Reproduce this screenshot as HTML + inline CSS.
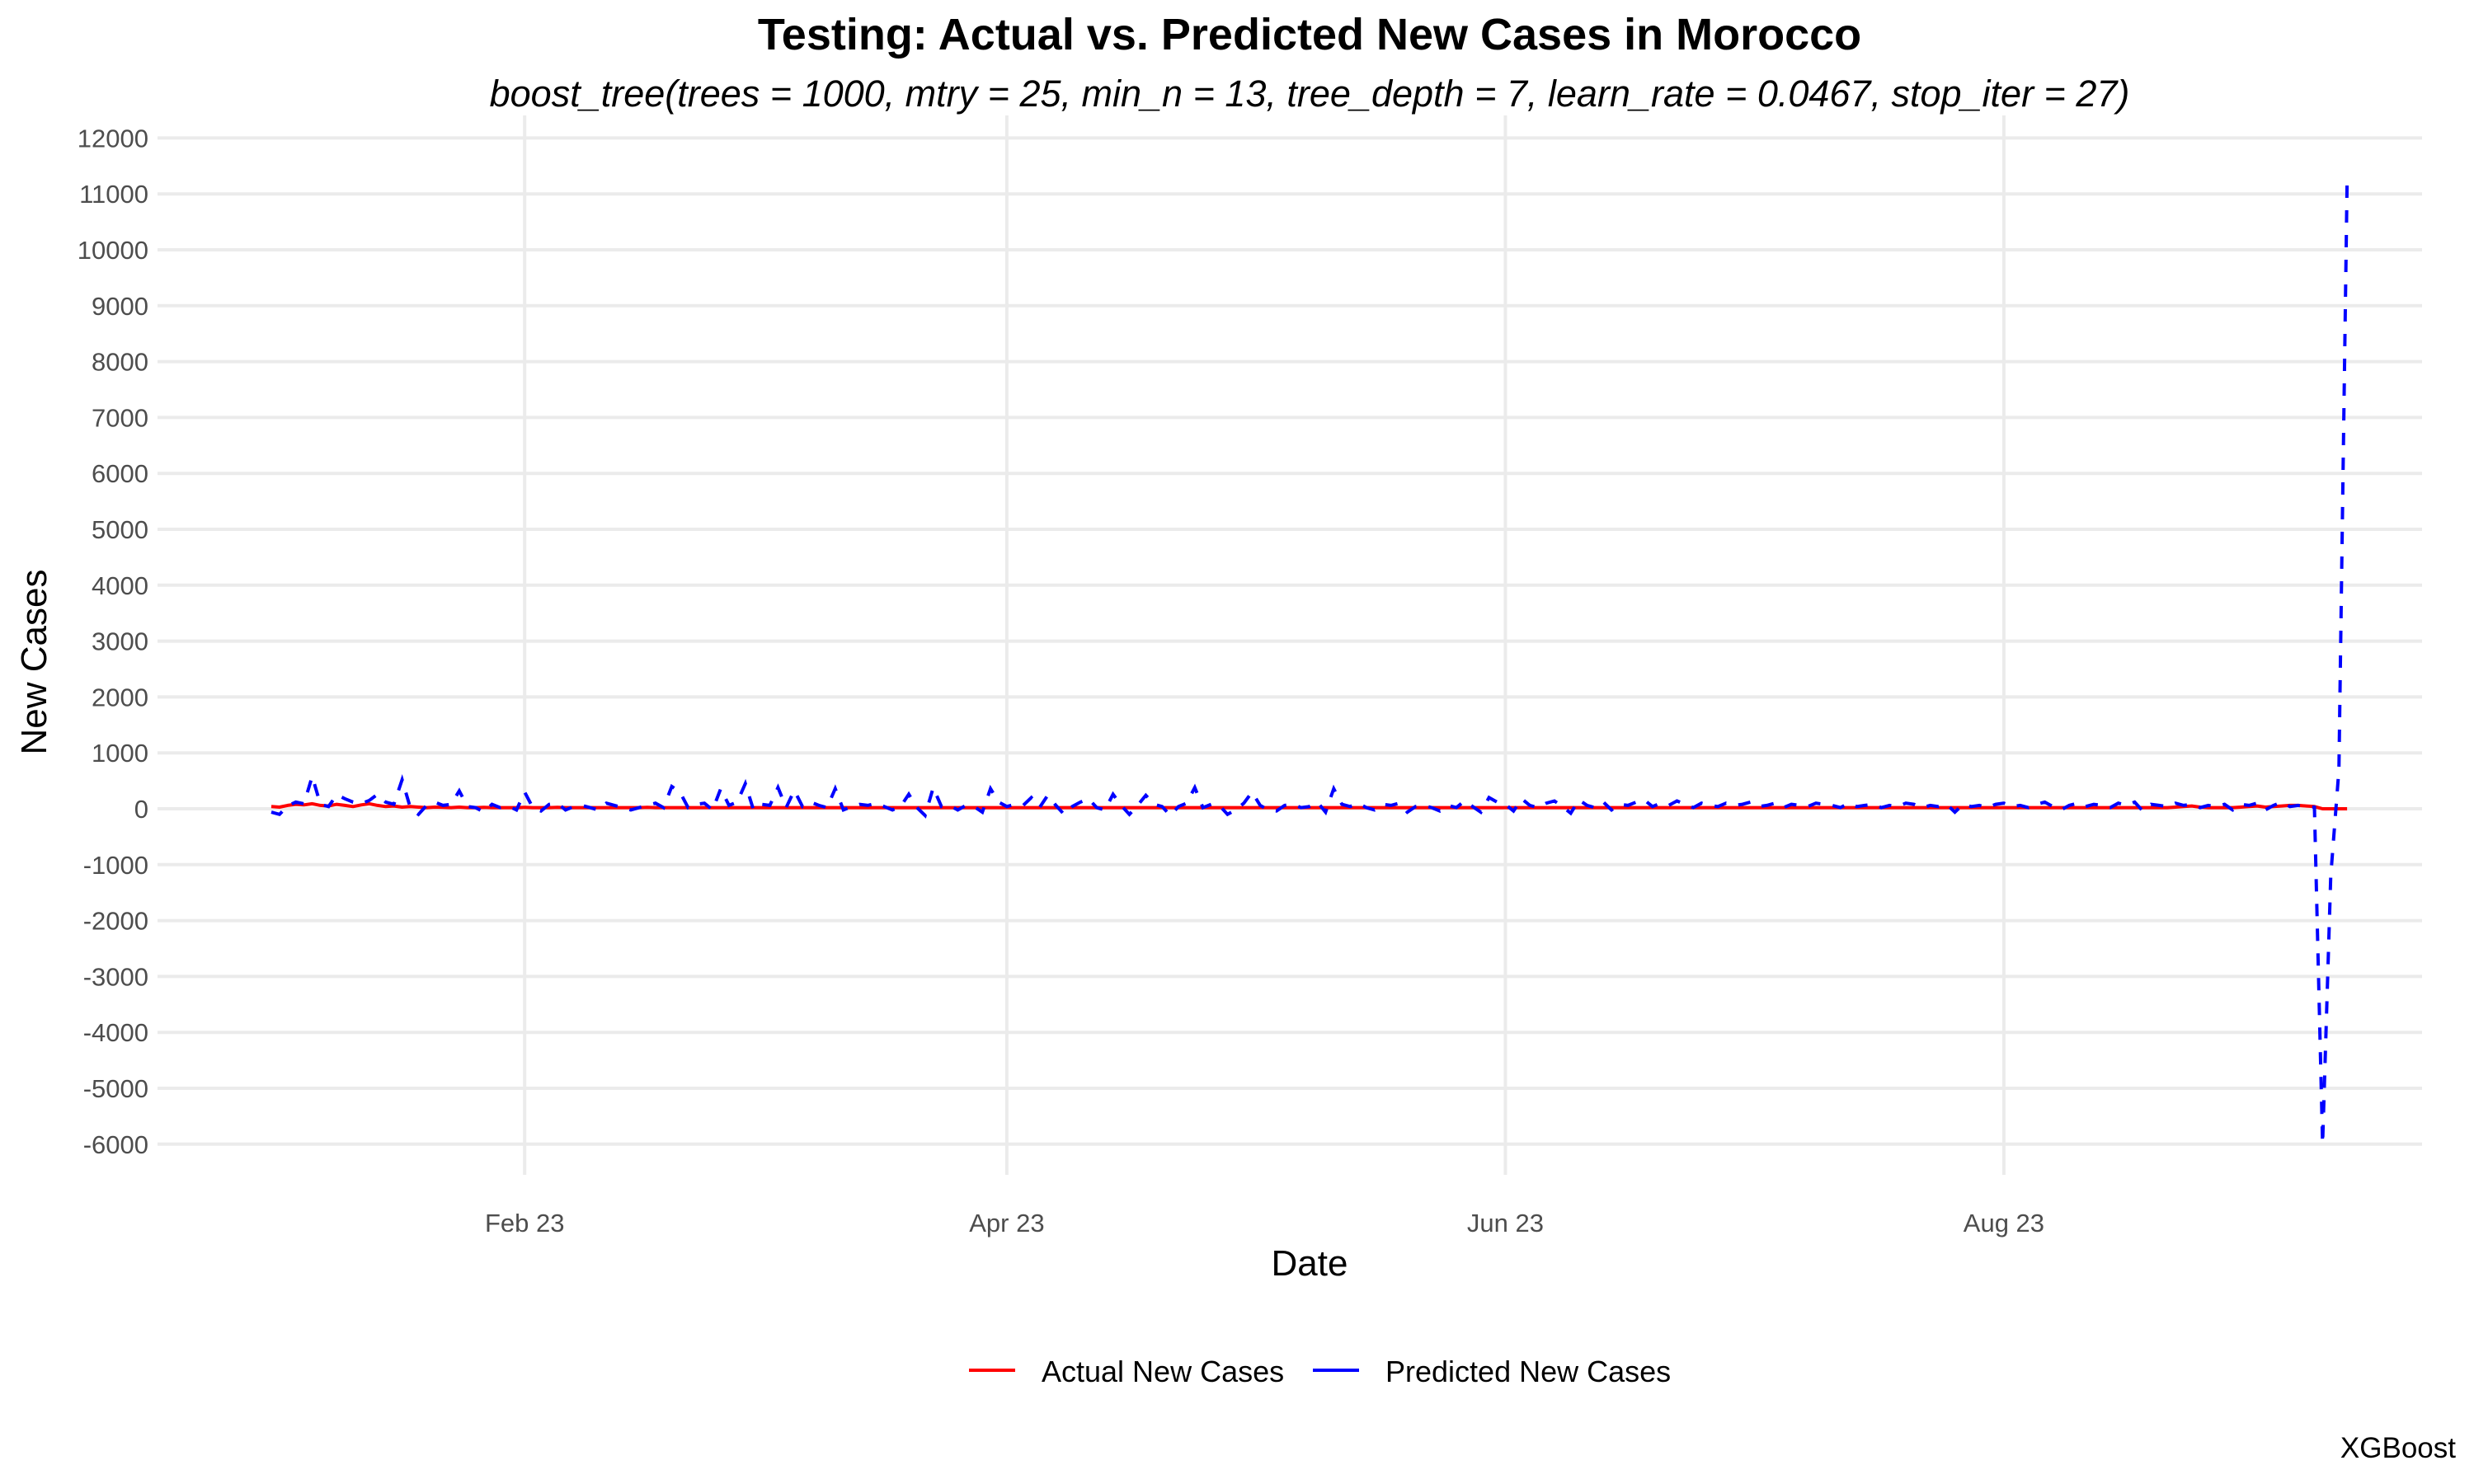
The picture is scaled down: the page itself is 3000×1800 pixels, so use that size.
<!DOCTYPE html>
<html><head><meta charset="utf-8"><style>
html,body{margin:0;padding:0;background:#fff;}
svg{display:block;font-family:"Liberation Sans",sans-serif;}
</style></head><body>
<svg id="chart" width="3000" height="1800" viewBox="0 0 3000 1800">
<text x="1588" y="60" text-anchor="middle" font-size="54" font-weight="bold" fill="#000">Testing: Actual vs. Predicted New Cases in Morocco</text>
<text x="1588" y="129" text-anchor="middle" font-size="45" font-style="italic" fill="#000">boost_tree(trees = 1000, mtry = 25, min_n = 13, tree_depth = 7, learn_rate = 0.0467, stop_iter = 27)</text>
<g id="grid"></g>
<g id="yticks"></g>
<g id="xticks"></g>
<g id="series"></g>
<text x="1588" y="1547" text-anchor="middle" font-size="44" fill="#000">Date</text>
<text transform="translate(56,803) rotate(-90)" text-anchor="middle" font-size="44" fill="#000">New Cases</text>
<g>
<g>
<line x1="1175" y1="1662" x2="1231" y2="1662" stroke="#ff0000" stroke-width="4"/>
<text x="1263" y="1676" font-size="36" fill="#000">Actual New Cases</text>
</g>
<g>
<line x1="1592" y1="1662" x2="1648" y2="1662" stroke="#0000ff" stroke-width="4"/>
<text x="1680" y="1676" font-size="36" fill="#000">Predicted New Cases</text>
</g>
</g>
<text x="2978" y="1768" text-anchor="end" font-size="35" fill="#000">XGBoost</text>
</svg>
<script>
const yTicks=[12000,11000,10000,9000,8000,7000,6000,5000,4000,3000,2000,1000,0,-1000,-2000,-3000,-4000,-5000,-6000];
const xTickDates=["2023-02-01","2023-04-01","2023-06-01","2023-08-01"];
const xTickLabels=["Feb 23","Apr 23","Jun 23","Aug 23"];
const startDate="2023-01-01";
const actual=[40,30,60,80,70,90,60,50,80,60,40,70,90,60,40,50,30,40,30,20,30,25,20,30,20,20,25,20,20,20,
20,25,20,20,20,25,20,20,20,20,20,20,20,20,20,20,25,20,20,20,20,20,20,20,20,20,20,20,20,20,
20,20,20,20,20,20,20,20,20,20,20,20,20,20,20,20,20,20,20,20,20,20,20,20,20,20,20,20,20,20,
20,20,20,20,20,20,20,20,20,20,20,20,20,20,20,20,20,20,20,20,20,20,20,20,20,20,20,20,20,20,
20,20,20,20,20,20,20,20,20,20,20,20,20,20,20,20,20,20,20,20,20,20,20,20,20,20,20,20,20,20,
20,20,20,20,20,20,20,20,20,20,20,20,20,20,20,20,20,20,20,20,20,20,20,20,20,20,20,20,20,20,
20,20,20,20,20,20,20,20,20,20,20,20,20,20,20,20,20,20,20,20,20,20,20,20,20,20,20,20,20,20,
20,20,20,20,20,20,20,20,20,20,20,20,20,20,20,20,20,20,20,20,20,20,20,30,40,50,30,20,20,20,
20,30,40,50,30,40,50,60,60,50,40,0,0,0,0];
const predicted=[-60,-100,50,120,90,580,80,40,250,180,120,90,150,260,120,80,520,20,-100,60,120,60,80,320,40,20,-60,80,20,50,
-20,300,20,-40,80,100,-20,40,60,20,-20,100,60,20,-20,20,60,100,20,400,300,20,80,100,-20,360,60,120,450,-20,
80,60,380,20,330,40,120,60,20,360,-20,40,80,60,100,40,-20,40,260,20,-120,380,40,60,-20,60,40,-60,360,120,
40,80,60,200,20,240,60,-100,40,120,180,20,-20,260,60,-100,60,240,80,40,-120,40,100,380,20,80,60,-100,-20,100,
300,60,-20,-40,60,80,20,40,120,-60,360,80,40,100,20,-20,80,60,100,-60,40,60,20,-40,60,20,140,40,-60,200,
120,80,-40,180,60,20,100,140,40,-80,160,60,20,120,-20,80,60,120,160,40,100,60,140,80,20,100,60,40,100,60,
80,120,40,60,100,20,80,60,40,100,80,60,20,100,40,60,80,20,60,40,100,80,20,60,40,80,-60,80,40,60,
20,80,100,40,60,20,80,120,40,-20,60,100,40,80,60,20,100,60,120,-40,80,60,40,100,60,80,20,60,40,80,
-20,80,60,100,-20,60,120,40,60,40,30,-6000,-1200,700,11200];

const NS="http://www.w3.org/2000/svg";
const plotL=191,plotR=2937;
function yScale(v){return 981-v*0.0678;}
const t0=Date.parse(startDate+"T00:00:00Z");
function dayIndex(d){return (Date.parse(d+"T00:00:00Z")-t0)/86400000;}
function xScale(i){return 329+i*9.91;}
function mk(tag,attrs,parent){const e=document.createElementNS(NS,tag);for(const k in attrs)e.setAttribute(k,attrs[k]);parent.appendChild(e);return e;}
const grid=document.getElementById('grid'),yt=document.getElementById('yticks'),xt=document.getElementById('xticks'),ser=document.getElementById('series');
yTicks.forEach(v=>{
  const l=mk('line',{x1:plotL,x2:plotR,y1:yScale(v),y2:yScale(v),stroke:'#ebebeb','stroke-width':4},grid);
  
  
  const t=mk('text',{x:180,y:yScale(v)+11,'text-anchor':'end','font-size':31,fill:'#4d4d4d'},yt);
  t.textContent=v;
  
  
});
xTickDates.forEach((d,i)=>{
  const x=xScale(dayIndex(d));
  const l=mk('line',{x1:x,x2:x,y1:140,y2:1425,stroke:'#ebebeb','stroke-width':4},grid);
  
  
  const t=mk('text',{x:x,y:1494,'text-anchor':'middle','font-size':31,fill:'#4d4d4d'},xt);
  t.textContent=xTickLabels[i];
  
  
});
function pts(arr){return arr.map((v,i)=>xScale(i).toFixed(1)+','+yScale(v).toFixed(1)).join(' ');}
const a=mk('polyline',{points:pts(actual),fill:'none',stroke:'#ff0000','stroke-width':4,'stroke-linejoin':'round'},ser);


const p=mk('polyline',{points:pts(predicted),fill:'none',stroke:'#0000ff','stroke-width':4,'stroke-dasharray':'15 15'},ser);


</script>
</body></html>
